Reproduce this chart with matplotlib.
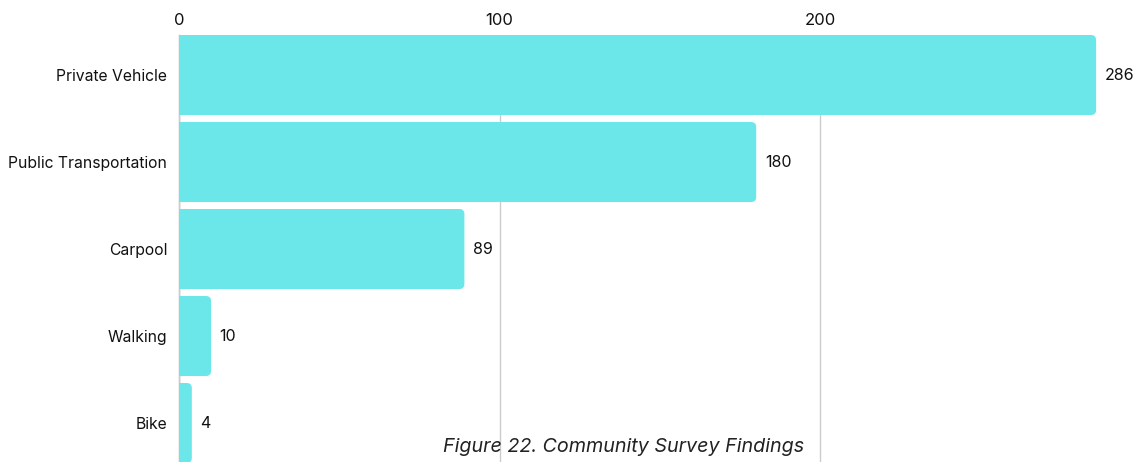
import matplotlib.pyplot as plt
from matplotlib.patches import FancyBboxPatch

# survey counts
modes = ["Private Vehicle", "Public Transportation", "Carpool", "Walking", "Bike"]
counts = [286, 180, 89, 10, 4]
xticks = [0, 100, 200]

plt.rcParams['font.family'] = ['Inter', 'DejaVu Sans']

bar_color = "#6be6e9"
grid_color = "#cccccc"
bar_h = 0.92

fig = plt.figure(figsize=(11.41, 4.62), dpi=100)
ax = fig.add_axes([179 / 1141, 0.0, 1 - 179 / 1141, (462 - 35) / 462])

ax.set_xlim(0, 300)
ax.set_ylim(4.448, -0.46)

for i, (m, v) in enumerate(zip(modes, counts)):
    # rounded end on the right, left corners hidden past the axis
    box = FancyBboxPatch((-6, i - bar_h / 2), v + 6, bar_h,
                         boxstyle="round,pad=0,rounding_size=1.6",
                         mutation_aspect=0.0369,
                         facecolor=bar_color, edgecolor="none", zorder=3)
    ax.add_patch(box)
    ax.text(v + 2.7, i, str(v), va="center", ha="left", fontsize=11.5,
            color="#111111", zorder=4)

ax.set_yticks(range(len(modes)))
ax.set_yticklabels(modes, fontsize=11.3, color="#111111")
ax.tick_params(axis="y", length=0, pad=8.5)

ax.xaxis.tick_top()
ax.set_xticks(xticks)
ax.set_xticklabels([str(t) for t in xticks], fontsize=12, color="#111111")
ax.tick_params(axis="x", length=0, pad=4.7)
ax.grid(axis="x", color=grid_color, linewidth=1, zorder=0)

for s in ["top", "right", "bottom"]:
    ax.spines[s].set_visible(False)
ax.spines["left"].set_color("#aaaaaa")
ax.spines["left"].set_linewidth(1)
ax.spines["left"].set_zorder(1)

fig.text(624 / 1141, 1 - 447 / 462, "Figure 22. Community Survey Findings",
         ha="center", va="center", fontsize=14.2, style="italic", color="#222222")

fig.savefig("out.png", dpi=100)
